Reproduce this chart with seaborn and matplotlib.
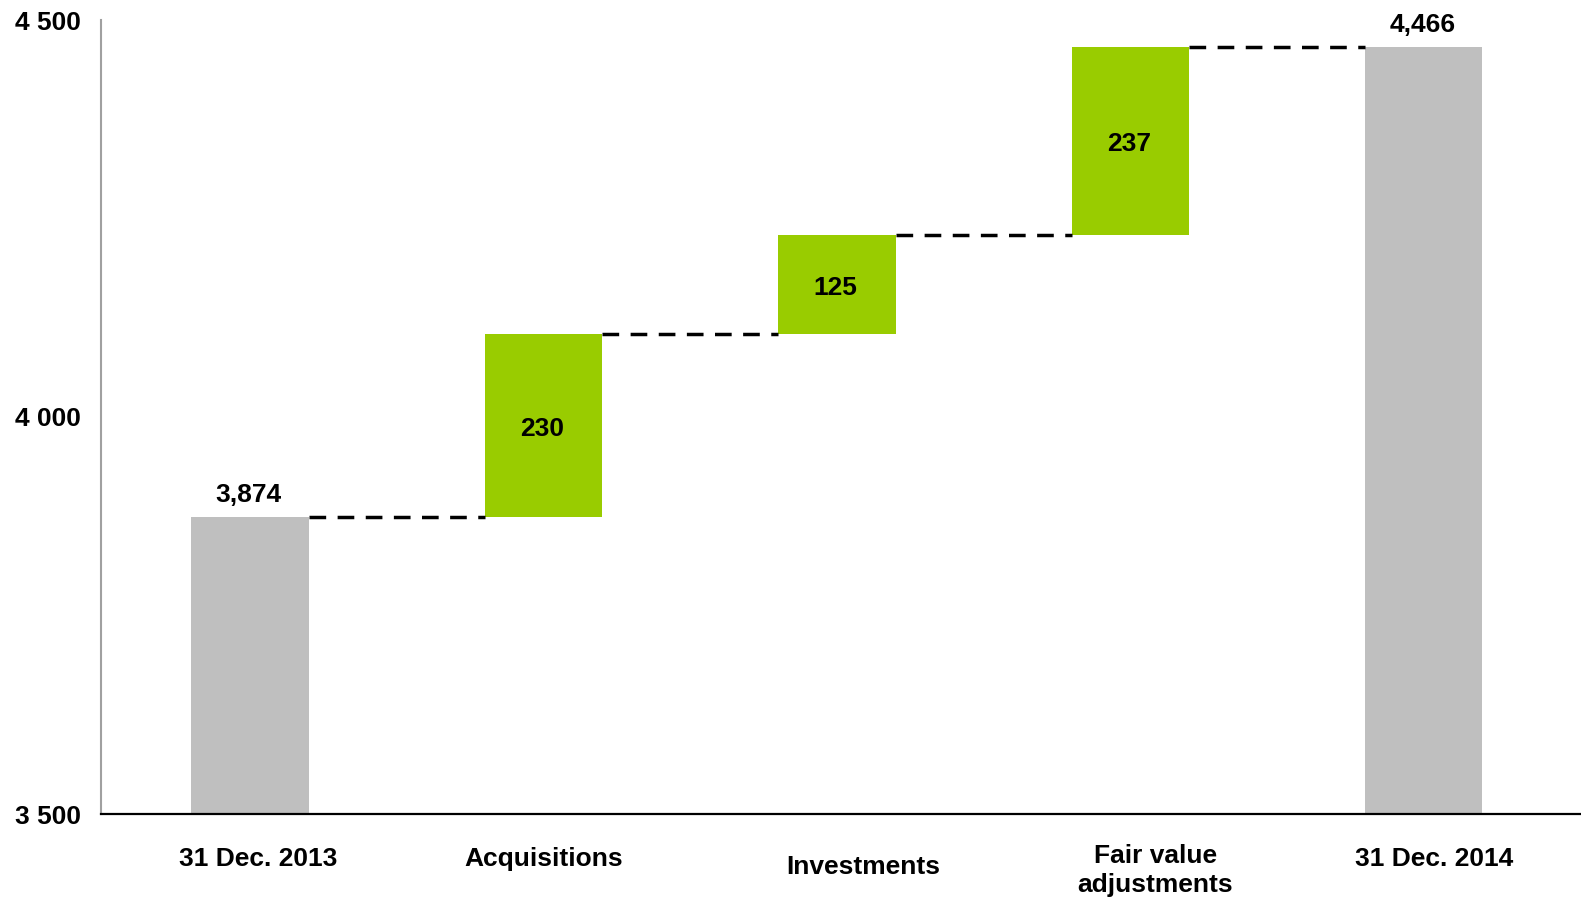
import numpy as np
import pandas as pd
import matplotlib
matplotlib.use("Agg")
import matplotlib.pyplot as plt
import matplotlib.transforms as mtransforms
from matplotlib.ticker import FuncFormatter
import seaborn as sns

# Bridge data: opening balance, movements, closing balance
categories = ["31 Dec. 2013", "Acquisitions", "Investments", "Fair value\nadjustments", "31 Dec. 2014"]
opening = 3874
changes = [230, 125, 237]
closing = 4466
y_ticks = [3500, 4000, 4500]

GREY = "#BFBFBF"
GREEN = "#99CC00"

# Heights and bottoms of the floating bars
heights = [opening] + changes + [closing]
levels = np.cumsum([opening] + changes)          # running total after each step
bottoms = [0] + list(levels[:-1]) + [0]
colors = [GREY] + [GREEN] * len(changes) + [GREY]
is_total = [True] + [False] * len(changes) + [True]

df = pd.DataFrame({"category": categories, "height": heights})

sns.set_style("white")
plt.rcParams["font.family"] = ["Liberation Sans", "DejaVu Sans"]
plt.rcParams["font.weight"] = "bold"
plt.rcParams["text.color"] = "black"

fig = plt.figure(figsize=(15.81, 9), dpi=100)
ax = fig.add_axes([101 / 1581, 86 / 900, 1480 / 1581, 794 / 900])

sns.barplot(data=df, x="category", y="height", bottom=bottoms, color=GREY,
            width=0.4, errorbar=None, saturation=1, ax=ax)
for patch, c in zip(ax.patches, colors):
    patch.set_facecolor(c)
    patch.set_edgecolor("none")

ax.set_ylim(3500, 4500)
ax.set_xlim(-0.508, 4.536)
ax.set_yticks(y_ticks)
ax.yaxis.set_major_formatter(FuncFormatter(lambda v, p: f"{int(v):,}".replace(",", " ")))
ax.set_xlabel("")
ax.set_ylabel("")
ax.set_xticks([])

for side in ("top", "right"):
    ax.spines[side].set_visible(False)
ax.spines["left"].set_color("#A0A0A0")
ax.spines["left"].set_linewidth(1.5)
ax.spines["bottom"].set_color("black")
ax.spines["bottom"].set_linewidth(1.6)
ax.tick_params(axis="y", direction="out", length=5, width=1.2, color="#A0A0A0",
               pad=9.5, labelsize=19, labelcolor="black")
for lbl in ax.get_yticklabels():
    lbl.set_fontweight("bold")

# Dashed connectors between consecutive bars
half = 0.2
for i, lvl in enumerate(levels):
    ax.plot([i + half, i + 1 - half], [lvl, lvl], color="black", lw=2.5,
            linestyle=(0, (4.8, 3.3)), solid_capstyle="butt", zorder=3)

# Value labels
for i, (h, b, tot) in enumerate(zip(heights, bottoms, is_total)):
    if tot:
        ax.annotate(f"{h:,}", xy=(i, b + h), xytext=(-1, 16), textcoords="offset points",
                    ha="center", va="center", fontsize=19, fontweight="bold", color="black")
    else:
        ax.annotate(f"{h}", xy=(i, b + h / 2), xytext=(-1, -2), textcoords="offset points",
                    ha="center", va="center", fontsize=19, fontweight="bold", color="black")

# Category labels under the axis
trans = mtransforms.blended_transform_factory(ax.transData, ax.transAxes)
label_dx = [0.027, 0.0, 0.089, 0.085, 0.034]
label_y = [-0.057, -0.057, -0.067, -0.071, -0.057]
for i, (cat, dx, yy) in enumerate(zip(categories, label_dx, label_y)):
    ax.text(i + dx, yy, cat, transform=trans, ha="center", va="center",
            fontsize=19, fontweight="bold", linespacing=1.25, clip_on=False, color="black")

fig.savefig("out.png", dpi=100)
